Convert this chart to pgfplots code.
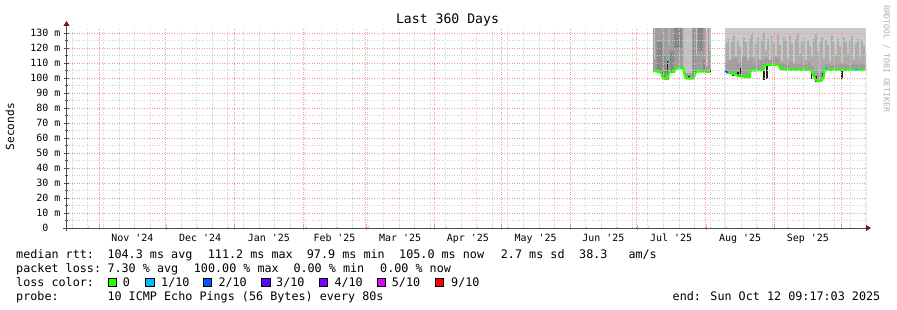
\documentclass[border=0pt]{standalone}
\usepackage{fontspec}
\setmainfont{DejaVu Sans Mono}
\usepackage{pgfplots}
\usepackage{pgfplotstable}
\pgfplotsset{compat=1.18}
\usetikzlibrary{arrows.meta}
\definecolor{mgrid}{RGB}{240,150,150}
\definecolor{mingrid}{RGB}{210,210,210}
\definecolor{axisgray}{RGB}{80,80,80}
\definecolor{arrowred}{RGB}{128,20,20}
\definecolor{loss0}{HTML}{26FF00}
\definecolor{loss1}{HTML}{00B8FF}
\definecolor{loss2}{HTML}{0059FF}
\definecolor{loss3}{HTML}{5E00FF}
\definecolor{loss4}{HTML}{7E00FF}
\definecolor{loss5}{HTML}{DD00FF}
\definecolor{loss9}{HTML}{FF0000}
\definecolor{smokeA}{RGB}{201,201,201}
\definecolor{smokeB}{RGB}{172,172,172}
\definecolor{smokeC}{RGB}{158,158,158}
\definecolor{smokeD}{RGB}{136,136,136}
\definecolor{smokeL}{RGB}{194,194,194}
\definecolor{spike}{RGB}{30,30,30}
\definecolor{wm}{RGB}{175,175,175}

% median rtt, block 1 and block 2 (days since start of the 360-day window)
\pgfplotstableread{
x y
263.9 104.6
265.6 104.6
266.3 104.0
267.6 103.8
268.1 101.0
268.5 99.6
270.6 99.6
271.0 103.8
272.6 104.2
273.4 104.2
273.9 106.0
274.6 106.6
277.5 106.6
277.9 104.0
278.4 101.0
278.9 99.8
280.6 99.6
282.2 99.8
282.7 102.0
283.2 104.2
284.6 104.4
290.0 104.2
}\medA
\pgfplotstableread{
x y
296.3 104.2
297.8 103.8
299.3 103.0
300.8 102.4
302.2 101.4
303.5 101.8
304.6 101.0
306.2 100.8
307.5 100.6
307.7 105.0
311.5 105.2
313.8 105.3
314.1 108.8
320.7 108.8
321.0 106.5
321.8 105.7
325.0 105.6
330.0 105.5
335.0 105.4
335.6 103.5
336.4 101.0
337.1 98.8
338.4 97.9
339.6 98.3
340.6 100.3
341.2 105.3
345.0 105.6
350.0 105.4
355.0 105.5
359.8 105.4
}\medB
% upper edge of the middle smoke shade, block 2
\pgfplotstableread{
x y
296.3 123
297.2 126
298.1 112
299.0 124
299.9 128
300.8 115
301.7 125
302.6 121
303.5 110
304.4 127
305.3 124
306.2 113
307.1 126
308.0 129
308.9 114
309.8 123
310.7 127
311.6 111
312.5 125
313.4 130
314.3 118
315.2 126
316.1 112
317.0 128
317.9 124
318.8 115
319.7 129
320.6 122
321.5 111
322.4 127
323.3 125
324.2 113
325.1 128
326.0 123
326.9 110
327.8 126
328.7 129
329.6 116
330.5 124
331.4 127
332.3 112
333.2 125
334.1 121
335.0 114
335.9 126
336.8 129
337.7 117
338.6 124
339.5 127
340.4 113
341.3 125
342.2 122
343.1 111
344.0 128
344.9 124
345.8 115
346.7 126
347.6 121
348.5 110
349.4 127
350.3 124
351.2 116
352.1 125
353.0 128
353.9 112
354.8 123
355.7 126
356.6 114
357.5 125
358.4 121
359.3 117
359.8 117
}\innerB
\pgfplotstableread{
x y
296.3 110
298.0 112
300.0 113
302.0 110
304.0 114
306.0 111
307.6 113
309.0 110
311.0 112
313.0 111
314.1 113
316.0 112
318.0 114
320.0 112
321.0 110
323.0 109.5
325.0 110.5
327.0 109
329.0 110
331.0 109
333.0 110.5
335.0 108
336.5 105
338.0 104
340.0 106
341.3 109
343.0 108.5
345.0 110
347.0 109
349.0 109.5
351.0 108.5
353.0 110
355.0 109
357.0 109.5
359.8 109.5
}\coreB

\begin{document}
\begin{tikzpicture}
\path[use as bounding box, fill=white] (0,0) rectangle (897bp,310bp);
\begin{axis}[
  at={(66.5bp,82bp)}, anchor=south west,
  scale only axis, width=800bp, height=200bp,
  xmin=0, xmax=360, ymin=0, ymax=133.333,
  axis on top,
  axis lines=left,
  axis line style={draw=axisgray, line width=0.8bp},
  x axis line style={-{Triangle[length=5bp,width=6bp,color=arrowred]}, shorten >=-4.5bp, shorten <=-4bp},
  y axis line style={-{Triangle[length=5bp,width=6bp,color=arrowred]}, shorten >=-7bp, shorten <=-3bp},
  unbounded coords=jump,
  xtick={14.613,44.613,75.613,106.613,134.613,165.613,195.613,226.613,256.613,287.613,318.613,348.613},
  xticklabels={,,,,,,,,,,,},
  minor xtick={2.613,9.613,...,359.613},
  extra x ticks={29.6,60.1,91.1,120.6,150.1,180.6,211.1,241.6,272.1,303.1,333.6},
  extra x tick labels={Nov \textquotesingle24,Dec \textquotesingle24,Jan \textquotesingle25,Feb \textquotesingle25,Mar \textquotesingle25,Apr \textquotesingle25,May \textquotesingle25,Jun \textquotesingle25,Jul \textquotesingle25,Aug \textquotesingle25,Sep \textquotesingle25},
  extra x tick style={grid=none, major tick length=0pt, xticklabel style={anchor=base, yshift=-13.7bp}},
  ytick={0,10,...,130},
  yticklabels={0\phantom{~m},10~m,20~m,30~m,40~m,50~m,60~m,70~m,80~m,90~m,100~m,110~m,120~m,130~m},
  minor ytick={5,15,...,125},
  grid=both,
  major grid style={draw=mgrid, dash pattern=on 1bp off 1.5bp, line width=0.7bp},
  minor grid style={draw=mingrid, dash pattern=on 1bp off 1.5bp, line width=0.8bp},
  tick align=center,
  major tick length=5bp, minor tick length=3bp,
  major x tick style={draw=mgrid},
  minor x tick style={draw=mingrid},
  major y tick style={draw=axisgray},
  minor y tick style={draw=axisgray},
  tick label style={font=\fontsize{10}{12}\selectfont},
  yticklabel style={anchor=east, inner sep=0pt, xshift=-3.5bp},
]
% ---- block 1 smoke ----
\addplot[fill=smokeC, draw=none] coordinates {(263.9,133.4) (290.0,133.4)} \closedcycle;
\addplot[fill=smokeL, draw=none] coordinates {
 (264.4,112) (264.9,112) (264.9,133.4) (264.4,133.4) (264.4,nan)
 (270.9,121) (271.4,121) (271.4,133.4) (270.9,133.4) (270.9,nan)
 (277.6,103) (281.6,103) (281.6,133.4) (277.6,133.4) (277.6,nan)
 (283.2,115) (283.7,115) (283.7,133.4) (283.2,133.4) (283.2,nan)
 (287.6,108) (288.6,108) (288.6,133.4) (287.6,133.4) (287.6,nan)
 (289.2,118) (289.7,118) (289.7,133.4) (289.2,133.4)
};
\addplot[fill=smokeD, draw=none] coordinates {
 (265.6,100) (268.0,100) (268.0,124) (265.6,124) (265.6,nan)
 (268.6,99) (269.6,99) (269.6,115) (268.6,115) (268.6,nan)
 (271.6,100) (273.2,100) (273.2,118) (271.6,118) (271.6,nan)
 (273.4,120) (277.0,120) (277.0,133.4) (273.4,133.4) (273.4,nan)
 (281.8,99) (283.0,99) (283.0,133.4) (281.8,133.4) (281.8,nan)
 (284.0,118) (286.5,118) (286.5,133.4) (284.0,133.4) (284.0,nan)
 (286.5,100) (287.4,100) (287.4,112) (286.5,112)
};
% ---- block 2 smoke ----
\addplot[fill=smokeA, draw=none] coordinates {(296.3,133.4) (359.8,133.4)} \closedcycle;
\addplot[fill=smokeB, draw=none, const plot] table {\innerB} \closedcycle;
\addplot[fill=smokeC, draw=none, const plot] table {\coreB} \closedcycle;
% clear below the lowest smoke (the median)
\addplot[fill=white, draw=none] table {\medA} \closedcycle;
\addplot[fill=white, draw=none] table {\medB} \closedcycle;
% darkest smoke below the median
\addplot[spike, line width=1.6bp] coordinates {
 (268.2,99.3) (268.2,104.2) (268.2,nan)
 (270.4,99.8) (270.4,111.5) (270.4,nan)
 (280.0,99.5) (280.0,101.0) (280.0,nan)
 (282.6,99.8) (282.6,104.5) (282.6,nan)
 (300.0,101.0) (300.0,103.5) (300.0,nan)
 (302.2,100.5) (302.2,104.0) (302.2,nan)
 (303.3,100.5) (303.3,106.5) (303.3,nan)
 (314.0,98.8) (314.0,109.0) (314.0,nan)
 (315.1,99.5) (315.1,108.5) (315.1,nan)
 (335.3,99.0) (335.3,105.5) (335.3,nan)
 (337.3,97.5) (337.3,101.0) (337.3,nan)
 (340.2,98.0) (340.2,103.5) (340.2,nan)
 (349.1,99.0) (349.1,105.3)
};
% median rtt coloured by loss
\addplot[loss0, line width=2.4bp] table {\medA};
\addplot[loss0, line width=2.4bp] table {\medB};
\addplot[loss1, line width=2.4bp] coordinates {
 (270.7,111.0) (271.3,111.0) (271.3,nan)
 (311.4,105.2) (312.0,105.2) (312.0,nan)
 (341.5,106.5) (342.2,106.5) (342.2,nan)
 (355.0,105.5) (356.3,105.5)
};
\addplot[loss3, line width=2.4bp] coordinates {(296.3,104.2) (297.0,104.0)};
\addplot[loss2, line width=2.4bp] coordinates {(297.0,104.0) (297.7,103.8)};
\addplot[loss9, line width=2.4bp] coordinates {(289.5,104.2) (290.0,104.2)};
\end{axis}
% titles and texts
\node[font=\fontsize{13.2}{15}\selectfont, anchor=base] at (447.5bp,286.7bp) {Last 360 Days};
\node[font=\fontsize{11.2}{13}\selectfont, rotate=90, anchor=center] at (10bp,183.3bp) {Seconds};
\node[font=\fontsize{8.1}{9}\selectfont, text=wm, rotate=-90, anchor=west, inner sep=0pt] at (886.5bp,305bp) {RRDTOOL / TOBI OETIKER};
\begin{scope}[every node/.style={font=\fontsize{11.8}{14}\selectfont, anchor=base west, inner sep=0pt}]
\node at (16bp,51.7bp) {median rtt:};
\node at (107.3bp,51.7bp) {104.3 ms avg};
\node at (207.7bp,51.7bp) {111.2 ms max};
\node at (306.7bp,51.7bp) {97.9 ms min};
\node at (399bp,51.7bp) {105.0 ms now};
\node at (500.7bp,51.7bp) {2.7 ms sd};
\node at (579bp,51.7bp) {38.3};
\node at (628.3bp,51.7bp) {am/s};
\node at (16bp,37.7bp) {packet loss:};
\node at (107.3bp,37.7bp) {7.30 \% avg};
\node at (193.7bp,37.7bp) {100.00 \% max};
\node at (293.3bp,37.7bp) {0.00 \% min};
\node at (380bp,37.7bp) {0.00 \% now};
\node at (16bp,23.5bp) {loss color:};
\node at (122.7bp,23.5bp) {0};
\node at (161bp,23.5bp) {1/10};
\node at (218.3bp,23.5bp) {2/10};
\node at (276bp,23.5bp) {3/10};
\node at (334.3bp,23.5bp) {4/10};
\node at (391.7bp,23.5bp) {5/10};
\node at (451bp,23.5bp) {9/10};
\node at (16bp,10bp) {probe:};
\node at (107.3bp,10bp) {10 ICMP Echo Pings (56 Bytes) every 80s};
\node[anchor=base east] at (880.5bp,10bp) {end: Sun Oct 12 09:17:03 2025};
\end{scope}
\begin{scope}[line width=0.6bp, draw=black]
\filldraw[fill=loss0] (108.3bp,23.3bp) rectangle ++(8.4bp,8.4bp);
\filldraw[fill=loss1] (145.7bp,23.3bp) rectangle ++(8.4bp,8.4bp);
\filldraw[fill=loss2] (203.3bp,23.3bp) rectangle ++(8.4bp,8.4bp);
\filldraw[fill=loss3] (261.7bp,23.3bp) rectangle ++(8.4bp,8.4bp);
\filldraw[fill=loss4] (319.3bp,23.3bp) rectangle ++(8.4bp,8.4bp);
\filldraw[fill=loss5] (377.3bp,23.3bp) rectangle ++(8.4bp,8.4bp);
\filldraw[fill=loss9] (435bp,23.3bp) rectangle ++(8.4bp,8.4bp);
\end{scope}
\end{tikzpicture}
\end{document}
